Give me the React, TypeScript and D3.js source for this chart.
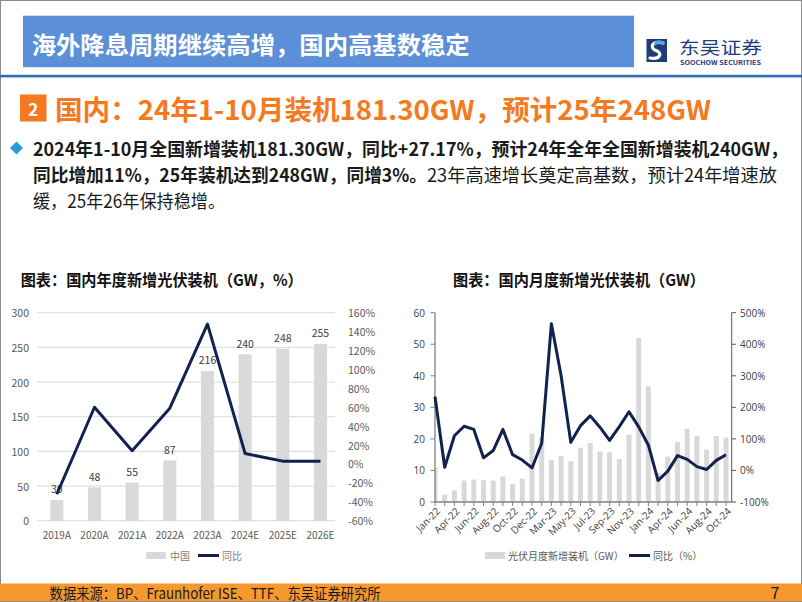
import React from 'react';
import * as d3 from 'd3';

// 年度数据
const yearCats = ['2019A', '2020A', '2021A', '2022A', '2023A', '2024E', '2025E', '2026E'];
const yearInstall = [30, 48, 55, 87, 216, 240, 248, 255];
const yearYoY = [-32, 60, 14, 59, 148, 11, 3, 3];
const yearTicksL = [0, 50, 100, 150, 200, 250, 300];
const yearTicksR = [-60, -40, -20, 0, 20, 40, 60, 80, 100, 120, 140, 160];

// 月度数据
const monthCats = [
  'Jan-22', 'Mar-22', 'Apr-22', 'May-22', 'Jun-22', 'Jul-22', 'Aug-22', 'Sep-22', 'Oct-22', 'Nov-22', 'Dec-22',
  'Feb-23', 'Mar-23', 'Apr-23', 'May-23', 'Jun-23', 'Jul-23', 'Aug-23', 'Sep-23', 'Oct-23', 'Nov-23', 'Dec-23',
  'Jan-24', 'Mar-24', 'Apr-24', 'May-24', 'Jun-24', 'Jul-24', 'Aug-24', 'Sep-24', 'Oct-24',
];
const monthInstall = [
  10.9, 2.3, 3.7, 6.8, 7.1, 6.9, 6.8, 8.1, 5.7, 7.4, 21.7,
  20.4, 13.3, 14.6, 12.9, 17.2, 18.7, 16.0, 15.8, 13.6, 21.3, 52.0,
  36.7, 9.1, 14.4, 19.0, 23.2, 21.0, 16.6, 20.9, 20.4,
];
const monthYoY = [
  234, 10, 110, 140, 130, 40, 63, 130, 50, 33, 8,
  86, 465, 300, 89, 142, 173, 137, 95, 139, 186, 138,
  80, -32, -2, 47, 35, 12, 3, 32, 50,
];
const monthTicksL = [0, 10, 20, 30, 40, 50, 60];
const monthTicksR = [-100, 0, 100, 200, 300, 400, 500];

const CJK = '"Noto Sans CJK SC", "Noto Sans", sans-serif';
const NAVY = '#12224f';
const BAR = '#d9d9d9';

const YearChart = () => {
  const x = d3.scaleBand().domain(yearCats).range([38, 339.3]);
  const yL = d3.scaleLinear().domain([0, 300]).range([520.7, 312.7]);
  const yR = d3.scaleLinear().domain([-60, 160]).range([520.7, 312.7]);
  const bw = 13;
  const cx = (c: string) => (x(c) as number) + x.bandwidth() / 2;
  const line = d3.line<number>()
    .x((d, i) => cx(yearCats[i]))
    .y(d => yR(d));
  return (
    <g fontFamily={CJK}>
      <text x={20.7} y={279} fontSize={16} fontWeight="bold" fill="#111" dominantBaseline="central"
        textLength={282} lengthAdjust="spacingAndGlyphs">图表：国内年度新增光伏装机（GW，%）</text>
      {yearTicksL.map(t => (
        <g key={t}>
          <line x1={37} x2={335} y1={yL(t)} y2={yL(t)} stroke="#d9d9d9" strokeWidth={1} />
          <text x={29} y={yL(t)} fontSize={10.5} fill="#595959" textAnchor="end" dominantBaseline="central">{t}</text>
        </g>
      ))}
      {yearTicksR.map(t => (
        <text key={t} x={348} y={yR(t)} fontSize={10.5} fill="#595959" dominantBaseline="central">{t}%</text>
      ))}
      {yearCats.map((c, i) => (
        <g key={c}>
          <rect x={cx(c) - bw / 2} y={yL(yearInstall[i])} width={bw} height={yL(0) - yL(yearInstall[i])} fill={BAR} />
          <text x={cx(c)} y={yL(yearInstall[i]) - 11} fontSize={10.5} fill="#404040" textAnchor="middle" dominantBaseline="central">{yearInstall[i]}</text>
          <text x={cx(c)} y={534.3} fontSize={10} fill="#595959" textAnchor="middle" dominantBaseline="central">{c}</text>
        </g>
      ))}
      <path d={line(yearYoY) || ''} fill="none" stroke={NAVY} strokeWidth={3} strokeLinejoin="round" />
      <rect x={146} y={552} width={20} height={7} fill={BAR} />
      <text x={170} y={555.5} fontSize={10} fill="#7f7f7f" dominantBaseline="central">中国</text>
      <line x1={198} x2={219} y1={555.5} y2={555.5} stroke={NAVY} strokeWidth={3} />
      <text x={222} y={555.5} fontSize={10} fill="#7f7f7f" dominantBaseline="central">同比</text>
    </g>
  );
};

const MonthChart = () => {
  const x = d3.scalePoint().domain(monthCats).range([435, 726]);
  const yL = d3.scaleLinear().domain([0, 60]).range([502, 312.7]);
  const yR = d3.scaleLinear().domain([-100, 500]).range([502, 312.7]);
  const bw = 5;
  const px = (c: string) => x(c) as number;
  const line = d3.line<number>()
    .x((d, i) => px(monthCats[i]))
    .y(d => yR(d));
  const axisFont = '"Open Sans", "Noto Sans", sans-serif';
  return (
    <g fontFamily={CJK}>
      <text x={453} y={279} fontSize={16} fontWeight="bold" fill="#111" dominantBaseline="central"
        textLength={252} lengthAdjust="spacingAndGlyphs">图表：国内月度新增光伏装机（GW）</text>
      <defs>
        <clipPath id="monthClip">
          <rect x={435} y={300} width={297} height={203} />
        </clipPath>
      </defs>
      <g clipPath="url(#monthClip)">
        {monthCats.map((c, i) => (
          <rect key={c} x={px(c) - bw / 2} y={yL(monthInstall[i])} width={bw}
            height={yL(0) - yL(monthInstall[i])} fill={BAR} />
        ))}
      </g>
      <line x1={435} x2={435} y1={312.7} y2={502} stroke="#808080" strokeWidth={1.3} />
      <line x1={731.7} x2={731.7} y1={312.7} y2={502} stroke="#595959" strokeWidth={1} />
      <line x1={435} x2={731.7} y1={502} y2={502} stroke="#808080" strokeWidth={1.3} />
      {monthTicksL.map(t => (
        <g key={t}>
          <line x1={430.5} x2={435} y1={yL(t)} y2={yL(t)} stroke="#808080" />
          <text x={425} y={yL(t)} fontFamily={axisFont} fontSize={10} fill="#404040" textAnchor="end" dominantBaseline="central">{t}</text>
        </g>
      ))}
      {monthTicksR.map(t => (
        <g key={t}>
          <line x1={731.7} x2={736} y1={yR(t)} y2={yR(t)} stroke="#595959" />
          <text x={740} y={yR(t)} fontFamily={axisFont} fontSize={10} fill="#404040" dominantBaseline="central">{t}%</text>
        </g>
      ))}
      {monthCats.map((c, i) => (
        <g key={c}>
          <line x1={px(c)} x2={px(c)} y1={502} y2={506} stroke="#808080" />
          {i % 2 === 0 && (
            <text transform={`translate(${px(c) + 3},${509}) rotate(-45)`} fontFamily={axisFont} fontSize={10}
              fill="#404040" textAnchor="end" dominantBaseline="central">{c}</text>
          )}
        </g>
      ))}
      <path d={line(monthYoY) || ''} fill="none" stroke={NAVY} strokeWidth={3} strokeLinejoin="round" />
      <rect x={485} y={552} width={20} height={7} fill={BAR} />
      <text x={508} y={555.5} fontSize={10} fill="#595959" dominantBaseline="central">光伏月度新增装机（GW）</text>
      <line x1={629} x2={650} y1={555.5} y2={555.5} stroke={NAVY} strokeWidth={3} />
      <text x={653} y={555.5} fontSize={10} fill="#595959" dominantBaseline="central">同比（%）</text>
    </g>
  );
};

const App = () => {
  return (
    <div style={{ position: 'absolute', left: 0, top: 0 }}>
      <svg width={802} height={602} style={{ display: 'block', background: '#fff' }}>
        {/* 页面边框 */}
        <rect x={0.5} y={0.5} width={801} height={601} fill="#fff" stroke="#8c8c8c" />
        {/* 页眉 */}
        <rect x={23} y={15.7} width={611} height={51.5} fill="#5b8fd7" />
        <text x={31.7} y={43} fontFamily={CJK} fontSize={24} fontWeight="bold" fill="#fff" dominantBaseline="central"
          textLength={438} lengthAdjust="spacingAndGlyphs">海外降息周期继续高增，国内高基数稳定</text>
        <rect x={0} y={74.8} width={802} height={2.6} fill="#2f6eb5" />
        {/* logo */}
        <rect x={646.5} y={39} width={20.5} height={23} fill="#1d3c78" />
        <path d="M663 43 C 652 40, 649 48, 656 50.5 C 663 53, 660 60, 650 58"
          fill="none" stroke="#fff" strokeWidth={3.2} strokeLinecap="round" />
        <path d="M663 43 C 660 41.5, 657 42, 655.5 43.5" fill="none" stroke="#5aa0e6" strokeWidth={3.2} strokeLinecap="round" />
        <text x={679} y={46.5} fontFamily={CJK} fontSize={17.5} fill="#1f3c80" dominantBaseline="central"
          textLength={83} lengthAdjust="spacingAndGlyphs">东吴证券</text>
        <text x={680} y={62.5} fontFamily={CJK} fontSize={5.5} fontWeight="bold" fill="#1f3c80" dominantBaseline="central"
          textLength={81} lengthAdjust="spacingAndGlyphs">SOOCHOW SECURITIES</text>
        {/* 小标题 */}
        <rect x={20} y={94.5} width={26.5} height={27} fill="#f47920" />
        <text x={33.3} y={108} fontFamily={CJK} fontSize={17} fontWeight="bold" fill="#fff" textAnchor="middle" dominantBaseline="central">2</text>
        <text x={55} y={108.5} fontFamily={CJK} fontSize={27} fontWeight="bold" fill="#f47920" dominantBaseline="central"
          textLength={656} lengthAdjust="spacingAndGlyphs">国内：24年1-10月装机181.30GW，预计25年248GW</text>
        {/* 要点 */}
        <polygon points="16.5,141.5 23,148 16.5,154.5 10,148" fill="#2a9bd7" />
        <text x={33} y={148} fontFamily={CJK} fontSize={18} fontWeight="bold" fill="#1a1a1a" dominantBaseline="central"
          textLength={755} lengthAdjust="spacingAndGlyphs">2024年1-10月全国新增装机181.30GW，同比+27.17%，预计24年全年全国新增装机240GW，</text>
        <text x={33} y={173.5} fontFamily={CJK} fontSize={18} fontWeight="bold" fill="#1a1a1a" dominantBaseline="central"
          textLength={394} lengthAdjust="spacingAndGlyphs">同比增加11%，25年装机达到248GW，同增3%。</text>
        <text x={427} y={173.5} fontFamily={CJK} fontSize={18} fill="#1a1a1a" dominantBaseline="central"
          textLength={350} lengthAdjust="spacingAndGlyphs">23年高速增长奠定高基数，预计24年增速放</text>
        <text x={33} y={200} fontFamily={CJK} fontSize={18} fill="#1a1a1a" dominantBaseline="central"
          textLength={192} lengthAdjust="spacingAndGlyphs">缓，25年26年保持稳增。</text>
        <YearChart />
        <MonthChart />
        {/* 页脚 */}
        <rect x={0} y={583.5} width={802} height={17.5} fill="#f7982f" />
        <text x={49.6} y={592} fontFamily={CJK} fontSize={15} fill="#1a1a1a" dominantBaseline="central"
          textLength={331} lengthAdjust="spacingAndGlyphs">数据来源：BP、Fraunhofer ISE、TTF、东吴证券研究所</text>
        <text x={775} y={591.5} fontFamily={CJK} fontSize={16} fill="#1a1a1a" textAnchor="middle" dominantBaseline="central">7</text>
      </svg>
    </div>
  );
};

export default App;
